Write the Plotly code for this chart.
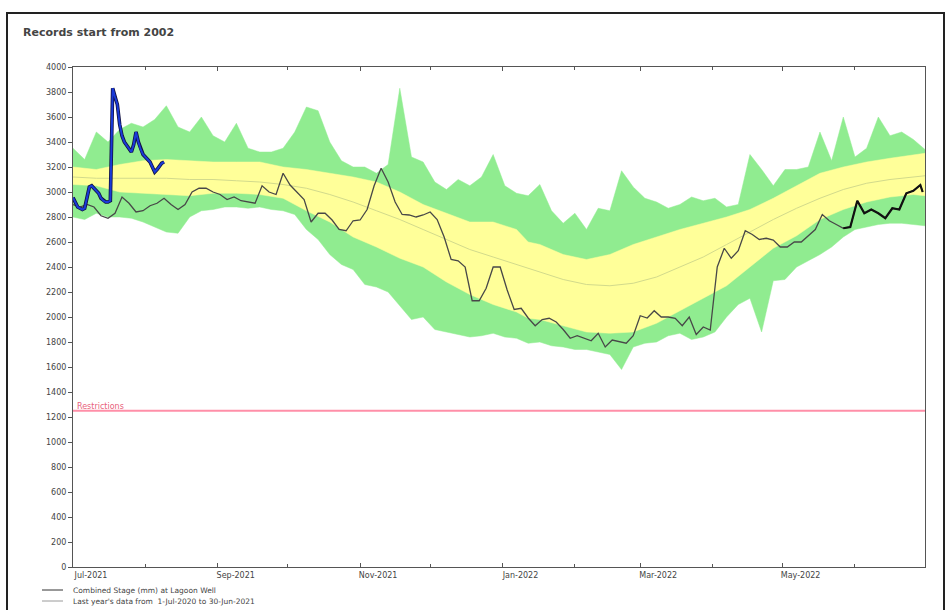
import pandas as pd
import plotly.graph_objects as go

START = pd.Timestamp("2021-07-01")


def to_dates(days):
    return [(START + pd.Timedelta(days=int(d))).strftime("%Y-%m-%d") for d in days]


# ---------------- data ----------------
band_days = list(range(0, 366, 5))
green_top = [3350, 3260, 3480, 3400, 3500, 3550, 3520, 3580, 3690, 3520,
             3480, 3600, 3450, 3400, 3550, 3350, 3320, 3320, 3350, 3480,
             3680, 3650, 3400, 3250, 3200, 3200, 3150, 3220, 3830, 3280,
             3240, 3080, 3020, 3100, 3050, 3120, 3300, 3050, 2990, 2970,
             3060, 2850, 2750, 2830, 2700, 2870, 2850, 3170, 3040, 2950,
             2920, 2870, 2900, 2960, 2930, 2950, 2880, 2900, 3300, 3180,
             3050, 3180, 3180, 3200, 3480, 3250, 3600, 3280, 3350, 3600,
             3450, 3480, 3420, 3340]
green_bottom = [2800, 2780, 2830, 2800, 2800, 2790, 2760, 2720, 2680, 2670,
                2800, 2850, 2860, 2880, 2880, 2870, 2880, 2860, 2850, 2820,
                2700, 2620, 2500, 2420, 2380, 2260, 2240, 2200, 2090, 1980,
                2000, 1900, 1880, 1860, 1840, 1850, 1870, 1840, 1830, 1790,
                1800, 1770, 1760, 1740, 1740, 1720, 1700, 1580, 1760, 1790,
                1800, 1850, 1870, 1820, 1840, 1880, 2000, 2100, 2150, 1880,
                2290, 2300, 2400, 2450, 2500, 2560, 2640, 2700, 2720, 2740,
                2750, 2750, 2740, 2730]

yellow_days = list(range(0, 191, 10)) + [195] + list(range(200, 361, 10)) + [365]
yellow_top = [3200, 3180, 3220, 3250, 3260, 3250, 3240, 3240, 3240, 3200,
              3180, 3150, 3120, 3080, 3000, 2900, 2830, 2760, 2760, 2700,
              2600, 2580, 2500, 2460, 2500, 2580, 2640, 2700, 2750, 2800,
              2860, 2950, 3050, 3150, 3200, 3240, 3270, 3300, 3310]
yellow_bottom = [3060, 3050, 3000, 2990, 2980, 2970, 2990, 2990, 2980, 2950,
                 2850, 2760, 2640, 2560, 2470, 2400, 2280, 2180, 2100, 2040,
                 1990, 1980, 1930, 1880, 1870, 1880, 1950, 2050, 2150, 2250,
                 2400, 2550, 2650, 2780, 2860, 2920, 2960, 2980, 2970]
median = [3120, 3110, 3110, 3110, 3110, 3100, 3100, 3090, 3080, 3060,
          3030, 2980, 2920, 2850, 2780, 2700, 2620, 2540, 2480, 2420,
          2390, 2360, 2300, 2260, 2250, 2270, 2320, 2400, 2480, 2580,
          2680, 2780, 2870, 2950, 3020, 3070, 3100, 3120, 3130]

last_days = list(range(0, 364, 3)) + [364]
last_year = [2900, 2880, 2900, 2880, 2810, 2790, 2830, 2960, 2910, 2840,
             2850, 2890, 2910, 2950, 2900, 2860, 2900, 3000, 3030, 3030,
             3000, 2980, 2940, 2960, 2930, 2920, 2910, 3050, 3000, 2980,
             3150, 3056, 2995, 2940, 2760, 2830, 2830, 2776, 2700, 2690,
             2770, 2776, 2860, 3050, 3190, 3080, 2920, 2820, 2816, 2800,
             2816, 2840, 2780, 2640, 2460, 2450, 2400, 2130, 2130, 2230,
             2400, 2400, 2216, 2060, 2070, 1992, 1930, 1980, 1990, 1960,
             1900, 1830, 1850, 1830, 1810, 1870, 1760, 1816, 1800, 1790,
             1850, 2010, 1992, 2050, 2000, 2000, 1990, 1930, 2000, 1860,
             1920, 1896, 2400, 2550, 2470, 2530, 2690, 2660, 2620, 2630,
             2616, 2560, 2560, 2600, 2600, 2650, 2700, 2820, 2770, 2740,
             2710, 2720, 2930, 2830, 2860, 2830, 2790, 2870, 2860, 2990,
             3010, 3056, 3000]

current_days = list(range(0, 40))
current = [2955, 2920, 2880, 2870, 2860, 2870, 2960, 3040, 3050, 3030,
           3010, 2990, 2950, 2930, 2920, 2920, 2930, 3830, 3760, 3700,
           3540, 3450, 3400, 3370, 3340, 3320, 3380, 3480, 3400, 3340,
           3300, 3280, 3260, 3240, 3200, 3160, 3180, 3210, 3230, 3240]

restriction_level = 1250
tick_dates = ["2021-07-01", "2021-09-01", "2021-11-01", "2022-01-01", "2022-03-01", "2022-05-01"]
tick_labels = ["Jul-2021", "Sep-2021", "Nov-2021", "Jan-2022", "Mar-2022", "May-2022"]
y_ticks = list(range(0, 4001, 200))
legend_labels = ["Combined Stage (mm) at Lagoon Well",
                 "Last year's data from  1-Jul-2020 to 30-Jun-2021"]
title_text = "Records start from 2002"
end_segment_from = 330  # day offset where the bold black end segment begins

# ---------------- figure ----------------
bx = to_dates(band_days)
yx = to_dates(yellow_days)
lx = to_dates(last_days)
cx = to_dates(current_days)

fig = go.Figure()
GREEN = "#90ec90"
YELLOW = "#ffff99"

fig.add_trace(go.Scatter(x=bx, y=green_bottom, mode="lines",
                         line=dict(color=GREEN, width=0.5), hoverinfo="skip", showlegend=False))
fig.add_trace(go.Scatter(x=bx, y=green_top, mode="lines", fill="tonexty", fillcolor=GREEN,
                         line=dict(color=GREEN, width=0.5), hoverinfo="skip", showlegend=False))
fig.add_trace(go.Scatter(x=yx, y=yellow_bottom, mode="lines",
                         line=dict(color=YELLOW, width=0.5), hoverinfo="skip", showlegend=False))
fig.add_trace(go.Scatter(x=yx, y=yellow_top, mode="lines", fill="tonexty", fillcolor=YELLOW,
                         line=dict(color=YELLOW, width=0.5), hoverinfo="skip", showlegend=False))
fig.add_trace(go.Scatter(x=yx, y=median, mode="lines",
                         line=dict(color="#d2da8c", width=1), showlegend=False))
fig.add_trace(go.Scatter(x=lx, y=last_year, mode="lines",
                         line=dict(color="#484848", width=1.3), showlegend=False))
end_idx = [i for i, d in enumerate(last_days) if d >= end_segment_from]
fig.add_trace(go.Scatter(x=[lx[i] for i in end_idx], y=[last_year[i] for i in end_idx],
                         mode="lines", line=dict(color="#111111", width=2.2), showlegend=False))
fig.add_trace(go.Scatter(x=cx, y=current, mode="lines",
                         line=dict(color="#101040", width=3.6), showlegend=False))
fig.add_trace(go.Scatter(x=cx, y=current, mode="lines",
                         line=dict(color="#1a3ad8", width=2), showlegend=False))

L, R, T, B = 73, 25, 67, 43
W, H = 950, 610
pw, ph = W - L - R, H - T - B


def px(xp):
    return (xp - L) / pw


def py(yp):
    return (H - B - yp) / ph


shapes = [
    dict(type="line", xref="paper", yref="y", x0=0, x1=1, y0=restriction_level, y1=restriction_level,
         line=dict(color="#ff8fa8", width=2)),
    dict(type="rect", xref="paper", yref="paper", x0=px(7), x1=px(944), y0=py(625), y1=py(13),
         line=dict(color="#222222", width=2)),
    dict(type="line", xref="paper", yref="paper", x0=px(42), x1=px(63), y0=py(590), y1=py(590),
         line=dict(color="#333333", width=1)),
    dict(type="line", xref="paper", yref="paper", x0=px(42), x1=px(63), y0=py(601), y1=py(601),
         line=dict(color="#9a9a9a", width=1)),
]

annotations = [
    dict(text="<b>" + title_text + "</b>", xref="paper", yref="paper", x=px(21), y=py(33),
         xanchor="left", yanchor="middle", showarrow=False,
         font=dict(family="DejaVu Sans", size=11, color="#444444")),
    dict(text="Restrictions", xref="x", yref="y", x="2021-07-02", y=restriction_level,
         xanchor="left", yanchor="bottom", showarrow=False, yshift=-2,
         font=dict(family="DejaVu Sans", size=8, color="#e8607a")),
    dict(text=legend_labels[0], xref="paper", yref="paper", x=px(71), y=py(590),
         xanchor="left", yanchor="middle", showarrow=False,
         font=dict(family="DejaVu Sans", size=7.5, color="#444444")),
    dict(text=legend_labels[1], xref="paper", yref="paper", x=px(71), y=py(601),
         xanchor="left", yanchor="middle", showarrow=False,
         font=dict(family="DejaVu Sans", size=7.5, color="#444444")),
]

fig.update_layout(
    width=W, height=H,
    margin=dict(l=L, r=R, t=T, b=B),
    paper_bgcolor="white", plot_bgcolor="white",
    showlegend=False,
    shapes=shapes,
    annotations=annotations,
    font=dict(family="DejaVu Sans", size=8, color="#444444"),
)
fig.update_xaxes(
    type="date", range=["2021-07-01", "2022-07-01"],
    tickmode="array", tickvals=tick_dates, ticktext=tick_labels,
    ticks="inside", ticklen=4, tickcolor="#555555",
    ticklabelshift=18,
    minor=dict(dtick="M1", tick0="2021-07-01", ticks="inside", ticklen=3, tickcolor="#555555", showgrid=False),
    showline=True, linecolor="#555555", linewidth=1, mirror="ticks",
    showgrid=False, zeroline=False,
    tickfont=dict(family="DejaVu Sans", size=8, color="#444444"),
)
fig.update_yaxes(
    range=[0, 4000], tickmode="array", tickvals=y_ticks,
    ticks="outside", ticklen=4, tickcolor="#555555",
    showline=True, linecolor="#555555", linewidth=1, mirror=True,
    showgrid=False, zeroline=False,
    tickfont=dict(family="DejaVu Sans", size=8, color="#444444"),
)

fig.write_html("out.html", config={"displayModeBar": False},
               post_script="document.body.style.margin='0px';")
